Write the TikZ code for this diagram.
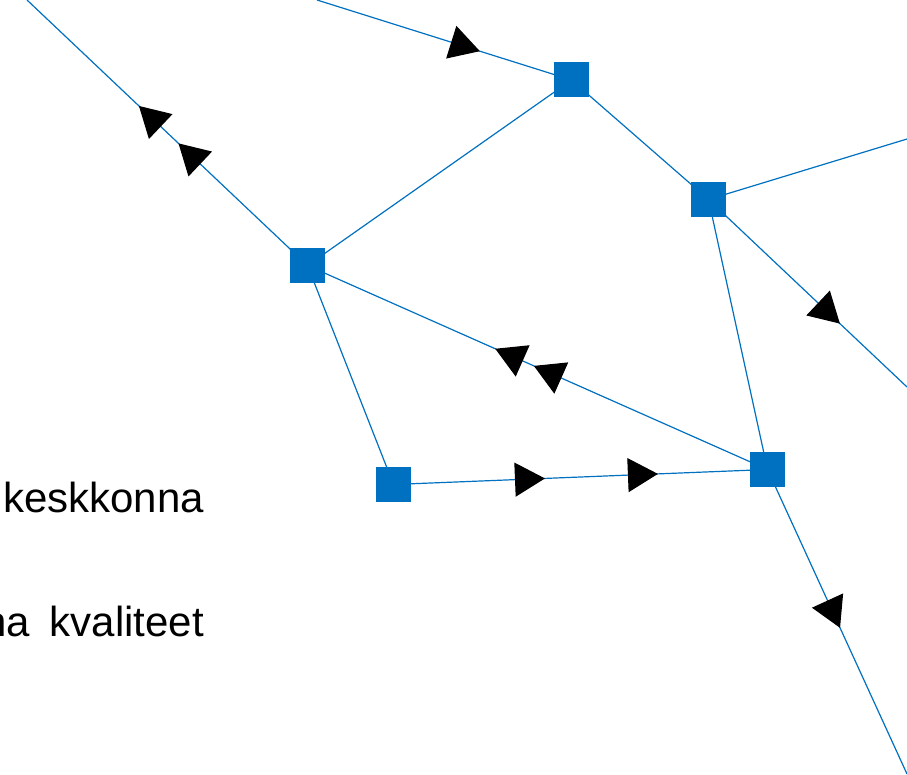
\documentclass[tikz,border=0pt]{standalone}
\usepackage{fontspec}
\setmainfont{Liberation Sans}
\usetikzlibrary{arrows.meta,decorations.markings,backgrounds}
\definecolor{netblue}{RGB}{0,112,192}
\newcommand{\tri}{\arrow[black]{Triangle[length=30pt,width=34pt]}}
\tikzset{
  sq/.style={fill=netblue, minimum size=35pt, inner sep=0pt, outer sep=0pt},
  link/.style={draw=netblue, line width=1.2pt},
  lab/.style={font=\fontsize{42}{50}\selectfont, anchor=base east, inner sep=0pt},
  mk/.style={postaction={decorate, decoration={markings, mark=at position #1 with {\tri}}}},
}
\begin{document}
\begin{tikzpicture}[x=1pt,y=-1pt]
\useasboundingbox (0,0) rectangle (907,775);
\clip (0,0) rectangle (907,775);
% squares
\node[sq] (L)  at (307.5,265.5) {};
\node[sq] (T)  at (571.5,80) {};
\node[sq] (R)  at (708.5,199.5) {};
\node[sq] (B1) at (393.5,484.5) {};
\node[sq] (B2) at (767.5,469.5) {};
% free ends
\coordinate (E1) at (27,0);
\coordinate (S1) at (317,0);
\coordinate (E3) at (907,139);
\coordinate (E4) at (907,387);
\coordinate (E5) at (907,774);
% labels
\node[lab] (t1) at (204,512) {keskkonna};
\node[lab] (t2) at (204,636) {na\hspace{8pt} kvaliteet};
\begin{pgfonlayer}{background}
\draw[link, mk=0.460, mk=0.601] (L.center) -- (E1);
\draw[link, mk=0.640] (S1) -- (T.center);
\draw[link] (L.center) -- (T.center);
\draw[link] (T.center) -- (R.center);
\draw[link] (R.center) -- (E3);
\draw[link, mk=0.662] (R.center) -- (E4);
\draw[link] (R.center) -- (B2.center);
\draw[link, mk=0.508, mk=0.592] (B2.center) -- (L.center);
\draw[link] (L.center) -- (B1.center);
\draw[link, mk=0.405, mk=0.707] (B1.center) -- (B2.center);
\draw[link, mk=0.52] (B2.center) -- (E5);
\end{pgfonlayer}
\end{tikzpicture}
\end{document}
